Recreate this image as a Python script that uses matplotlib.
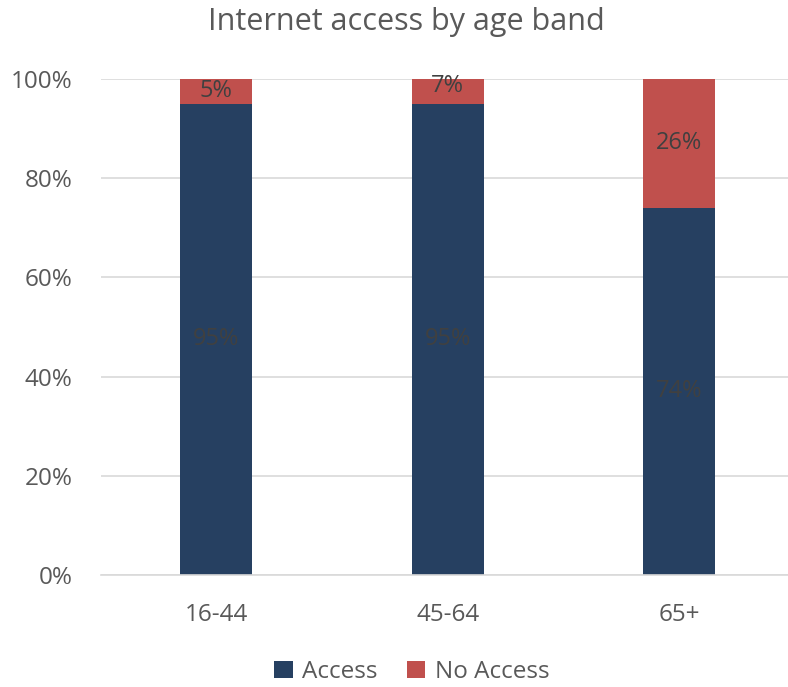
import matplotlib.pyplot as plt
import numpy as np

# Data
age_bands = ['16-44', '45-64', '65+']
access = [95, 95, 74]
no_access = [5, 7, 26]

navy = '#264061'
red = '#C0504D'
text_col = '#595959'

plt.rcParams['font.family'] = ['Open Sans', 'DejaVu Sans']

fig = plt.figure(figsize=(7.88, 6.87), dpi=100)
ax = fig.add_axes([100.5 / 788, 1 - 575 / 687, 1 - 100.5 / 788, (575 - 79) / 687])

x = np.arange(len(age_bands))
w = 0.31
b1 = ax.bar(x, access, w, color=navy, label='Access', zorder=2)
b2 = ax.bar(x, no_access, w, bottom=access, color=red, label='No Access', zorder=2)

# Labels centred on each segment (No Access may overflow 100%)
for xi, a, n in zip(x, access, no_access):
    ax.text(xi, a / 2, f'{a}%', ha='center', va='center', fontsize=17, color='#404040', zorder=3)
    ax.text(xi, a + n / 2, f'{n}%', ha='center', va='center', fontsize=17, color='#404040', zorder=3)

ax.set_ylim(0, 100)
ax.set_xlim(-0.5, 2.47)
ax.set_yticks(range(0, 101, 20))
ax.set_yticklabels([f'{v}%' for v in range(0, 101, 20)])
ax.set_xticks(x)
ax.set_xticklabels(age_bands)
ax.yaxis.grid(True, color='#D9D9D9', linewidth=1.2, zorder=0)
ax.set_axisbelow(True)
for s in ['top', 'right', 'left']:
    ax.spines[s].set_visible(False)
ax.spines['bottom'].set_color('#D9D9D9')
ax.spines['bottom'].set_linewidth(1.2)
ax.tick_params(axis='both', length=0, labelsize=17.5, colors=text_col)
ax.tick_params(axis='x', pad=20)
ax.tick_params(axis='y', pad=20)

fig.text(406 / 788, 1 - 22 / 687, 'Internet access by age band', ha='center', va='center',
         fontsize=22, color=text_col)

fig.legend(handles=[b1, b2], loc='center', bbox_to_anchor=(412 / 788, 1 - 672 / 687), ncol=2,
           frameon=False, fontsize=17.5, labelcolor=text_col, handlelength=0.75, handleheight=0.75,
           columnspacing=1.2, handletextpad=0.4)

fig.savefig('out.png', dpi=100)
